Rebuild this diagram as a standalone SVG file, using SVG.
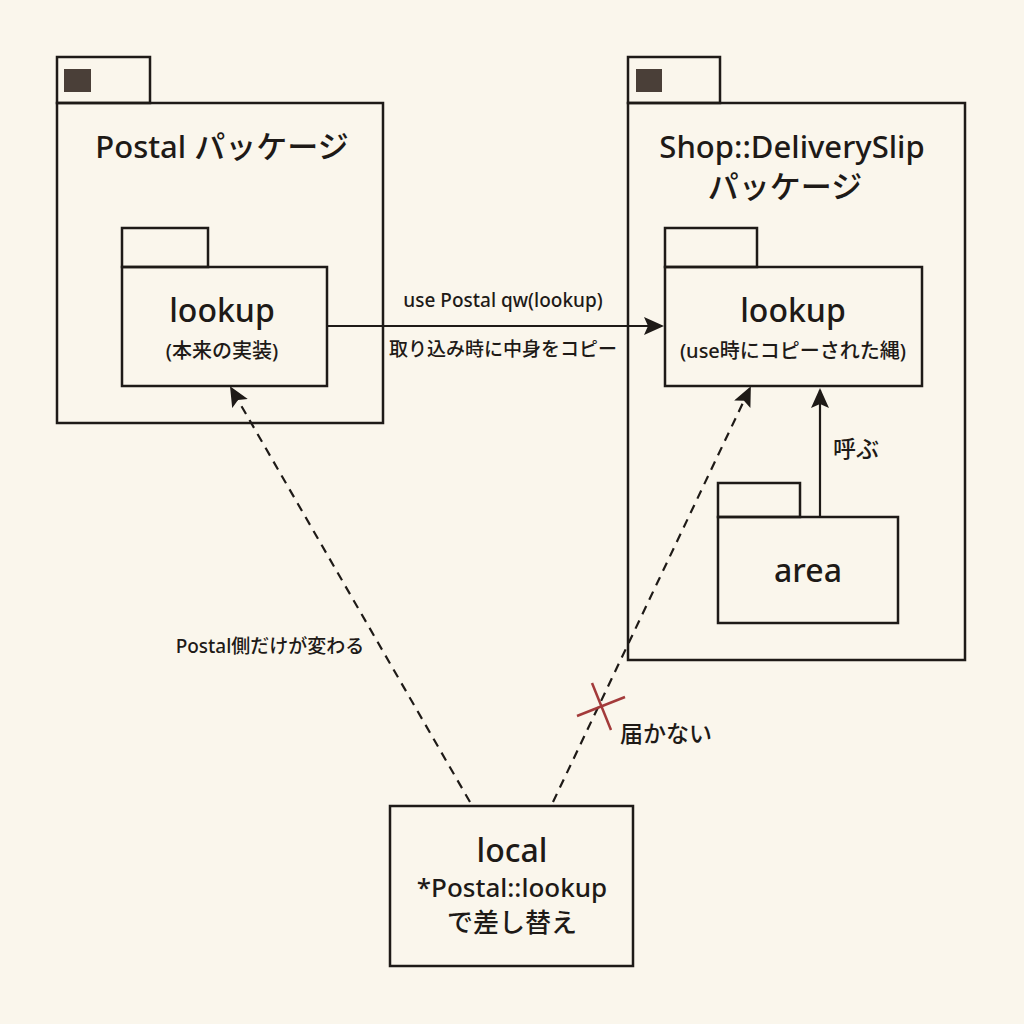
<svg xmlns="http://www.w3.org/2000/svg" width="1024" height="1024" viewBox="0 0 1024 1024">
<style>
.b{fill:none;stroke:#1e1a17;stroke-width:2.5}
.t{font-family:"Noto Sans","Noto Sans CJK JP",sans-serif;fill:#1e1a17;text-anchor:middle;font-weight:500}
.c{stroke:#1e1a17;stroke-width:2.2;fill:none}
.d{stroke:#1e1a17;stroke-width:2.2;fill:none;stroke-dasharray:9 7}
</style>
<defs><marker id="a" markerWidth="20" markerHeight="20" refX="18" refY="9" orient="auto" markerUnits="userSpaceOnUse"><path d="M0,0 L20,9 L0,18 L4,9 Z" fill="#1e1a17"/></marker></defs>
<rect width="1024" height="1024" fill="#faf6ec"/>
<g id="postal"><rect class="b" x="57" y="57" width="93" height="46"/><rect class="b" x="57" y="103" width="326" height="320"/><rect x="64" y="69" width="27" height="23" fill="#4a3f38"/><text class="t" x="222" y="158" font-size="31">Postal パッケージ</text></g>
<g id="postal-lookup"><rect class="b" x="122" y="228" width="86" height="39"/><rect class="b" x="122" y="267" width="205" height="119"/><text class="t" x="222" y="322" font-size="32">lookup</text><text class="t" x="222" y="358" font-size="20">(本来の実装)</text></g>
<g id="shop"><rect class="b" x="628" y="57" width="92" height="46"/><rect class="b" x="628" y="103" width="337" height="557"/><rect x="636" y="69" width="26" height="23" fill="#4a3f38"/><text class="t" x="792" y="158" font-size="31">Shop::DeliverySlip</text><text class="t" x="785" y="198" font-size="31">パッケージ</text></g>
<g id="shop-lookup"><rect class="b" x="665" y="228" width="92" height="39"/><rect class="b" x="665" y="267" width="257" height="119"/><text class="t" x="793" y="322" font-size="32">lookup</text><text class="t" x="793" y="358" font-size="20">(use時にコピーされた縄)</text></g>
<g id="area"><rect class="b" x="718" y="483" width="82" height="34"/><rect class="b" x="718" y="517" width="180" height="106"/><text class="t" x="808" y="582" font-size="32">area</text></g>
<g id="local"><rect class="b" x="390" y="806" width="243" height="160"/><text class="t" x="512" y="862" font-size="32">local</text><text class="t" x="512" y="897" font-size="26">*Postal::lookup</text><text class="t" x="512" y="932" font-size="26">で差し替え</text></g>
<g id="connectors">
<line class="c" x1="327" y1="326" x2="662" y2="326" marker-end="url(#a)"/>
<text class="t" x="503" y="307" font-size="19">use Postal qw(lookup)</text>
<text class="t" x="503" y="356" font-size="19">取り込み時に中身をコピー</text>
<line class="c" x1="820" y1="517" x2="820" y2="390" marker-end="url(#a)"/>
<text class="t" x="856" y="457" font-size="23">呼ぶ</text>
<line class="d" x1="470" y1="802" x2="231" y2="388" marker-end="url(#a)"/>
<text class="t" x="270" y="653" font-size="19">Postal側だけが変わる</text>
<line class="d" x1="553" y1="802" x2="750" y2="388" marker-end="url(#a)"/>
<line x1="592" y1="683" x2="611" y2="730" stroke="#a33a3a" stroke-width="2.5"/>
<line x1="577" y1="716" x2="625" y2="697" stroke="#a33a3a" stroke-width="2.5"/>
<text class="t" x="666" y="742" font-size="23">届かない</text>
</g>
</svg>
